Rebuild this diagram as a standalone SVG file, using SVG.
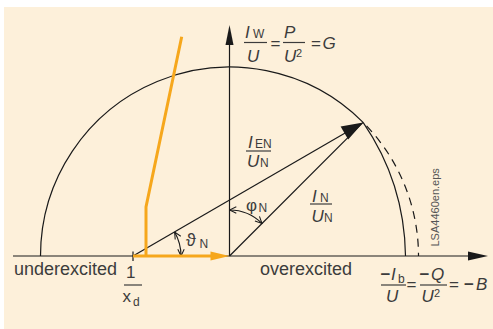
<svg xmlns="http://www.w3.org/2000/svg" width="493" height="329" viewBox="0 0 493 329">
<style>
.t{font-family:"Liberation Sans",Arial,sans-serif;fill:#3c3c3c;font-size:17px}
.i{font-style:italic}
.s{font-size:12px}
.big{font-size:18px}
.ln{stroke:#1a1a1a;fill:none;stroke-width:1.2}
.bar{stroke:#3c3c3c;stroke-width:1.2}
.or{stroke:#F6A71C;fill:none;stroke-width:3}
</style>
<defs>
<marker id="oa" viewBox="0 0 10 10" refX="9.5" refY="5" markerWidth="8" markerHeight="8" orient="auto-start-reverse" markerUnits="userSpaceOnUse">
<path d="M1,1 L9.5,5 L1,9" fill="none" stroke="#1a1a1a" stroke-width="1.3"/>
</marker>
</defs>
<rect x="4" y="7" width="489" height="322" fill="#FDF0DA"/>
<g id="curves">
<path class="ln" d="M40.5 256 A189 189 0 0 1 363.1 122.4"/>
<path class="ln" d="M363.1 122.4 A189 189 0 0 1 418.5 256" stroke-dasharray="8 6" stroke-dashoffset="-5"/>
<path class="ln" d="M363.1 122.4 A242 242 0 0 1 405.5 256"/>
</g>
<g id="axes">
<line class="ln" x1="13" y1="256" x2="470" y2="256"/>
<polygon points="468,251.5 488,256 468,260.5" fill="#1a1a1a"/>
<line class="ln" x1="229.5" y1="256" x2="229.5" y2="44"/>
<polygon points="225.5,45 229.5,25 233.5,45" fill="#1a1a1a"/>
<line class="ln" x1="133" y1="251.5" x2="133" y2="261"/>
</g>
<g id="connectors">
<line class="ln" x1="229.5" y1="256" x2="363.1" y2="122.4" stroke-width="1"/>
<line class="ln" x1="133" y1="256" x2="346" y2="132.4" stroke-width="1.6"/>
<polygon points="363.1,122.4 348.2,139.5 340.6,126.4" fill="#1a1a1a"/>
<path class="ln" d="M229.5 210 A46 46 0 0 1 262 223.5" marker-start="url(#oa)" marker-end="url(#oa)" stroke-width="1"/>
<path class="ln" d="M174.6 232 A48 48 0 0 1 181 256" marker-start="url(#oa)" marker-end="url(#oa)" stroke-width="1"/>
</g>
<g id="orange">
<line class="or" x1="133" y1="256" x2="212" y2="256"/>
<polygon points="210.5,251.5 229.5,256 210.5,260.5" fill="#F6A71C"/>
<polyline class="or" points="146,256 146,207 181.7,36.7"/>
</g>
<g id="label-G">
<text class="t i" x="245" y="38">I</text><text class="t s" x="253" y="38">W</text>
<line class="bar" x1="244" y1="42.5" x2="267" y2="42.5"/>
<text class="t i" x="247" y="61.5">U</text>
<text class="t" x="270.5" y="48.5">=</text>
<text class="t i" x="284" y="38">P</text>
<line class="bar" x1="283" y1="42.5" x2="305" y2="42.5"/>
<text class="t i" x="284" y="61.5">U</text><text class="t" style="font-size:11px" x="296" y="57">2</text>
<text class="t" x="311" y="48.5">=</text><text class="t i" x="322.5" y="48.5">G</text>
</g>
<g id="label-IEN">
<text class="t i" x="248" y="148">I</text><text class="t s" x="255" y="148">EN</text>
<line class="bar" x1="246" y1="151" x2="271" y2="151"/>
<text class="t i" x="247" y="167">U</text><text class="t s" x="260" y="167">N</text>
</g>
<g id="label-IN">
<text class="t i" x="312" y="201.5">I</text><text class="t s" x="320" y="201.5">N</text>
<line class="bar" x1="310" y1="204" x2="332" y2="204"/>
<text class="t i" x="311.5" y="221.5">U</text><text class="t s" x="324" y="221.5">N</text>
</g>
<g id="label-phi">
<text class="t" style="font-size:17px" x="246" y="211">φ</text><text class="t s" x="258.5" y="212">N</text>
</g>
<g id="label-theta">
<text class="t" style="font-size:18px" x="186" y="246">ϑ</text><text class="t s" x="199.5" y="248">N</text>
</g>
<g id="label-axes">
<text class="t big" x="14" y="275">underexcited</text>
<text class="t big" x="260" y="275">overexcited</text>
<text class="t" x="126" y="277.5">1</text>
<line class="bar" x1="124" y1="285" x2="142" y2="285"/>
<text class="t" x="122.5" y="301.5">x</text><text class="t s" x="133" y="305.5">d</text>
</g>
<g id="label-B">
<text class="t" style="font-weight:bold" x="380.5" y="279.5">−</text>
<text class="t i" x="391" y="280">I</text><text class="t s" x="398" y="283">b</text>
<line class="bar" x1="381" y1="285" x2="406" y2="285"/>
<text class="t i" x="386" y="301.5">U</text>
<text class="t" x="406.5" y="290">=</text>
<text class="t" style="font-weight:bold" x="419.5" y="279.5">−</text>
<text class="t i" x="431" y="280">Q</text>
<line class="bar" x1="420" y1="285" x2="447" y2="285"/>
<text class="t i" x="421.5" y="301.5">U</text><text class="t" style="font-size:11px" x="434" y="297">2</text>
<text class="t" x="449" y="290">=</text>
<text class="t" style="font-weight:bold" x="464" y="290">−</text>
<text class="t i" x="476" y="290">B</text>
</g>
<text class="t" style="font-size:11px;fill:#555" transform="translate(438.5 246.5) rotate(-90)">LSA4460en.eps</text>
</svg>
